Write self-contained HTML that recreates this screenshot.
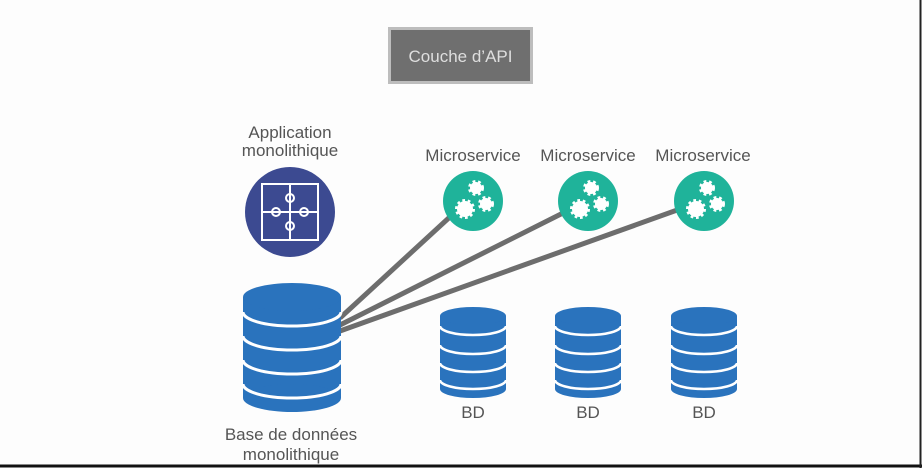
<!DOCTYPE html>
<html><head><meta charset="utf-8"><style>
html,body{margin:0;padding:0;background:#fff}
svg{display:block}
text{font-family:"Liberation Sans",sans-serif;fill:#555}
</style></head><body>
<svg width="922" height="468" viewBox="0 0 922 468">
<rect width="922" height="468" fill="#fdfdfd"/>
<line x1="0" y1="466" x2="922" y2="466" stroke="#111" stroke-width="3"/>
<line x1="920.5" y1="0" x2="920.5" y2="468" stroke="#222" stroke-width="2"/>
<rect x="388" y="27" width="145" height="57" fill="#bdbdbd"/>
<rect x="391" y="30" width="139" height="51" fill="#6f6f6f"/>
<text x="460.5" y="62" text-anchor="middle" font-size="17" style="fill:#dedede">Couche d’API</text>
<text x="290" y="138" text-anchor="middle" font-size="17">Application</text>
<text x="290" y="156" text-anchor="middle" font-size="17">monolithique</text>
<text x="473" y="161" text-anchor="middle" font-size="17">Microservice</text>
<text x="588" y="161" text-anchor="middle" font-size="17">Microservice</text>
<text x="703" y="161" text-anchor="middle" font-size="17">Microservice</text>
<g stroke="#6d6d6d" stroke-width="5">
<line x1="340" y1="318" x2="452" y2="215"/>
<line x1="340" y1="325" x2="565" y2="212"/>
<line x1="340" y1="331" x2="680" y2="209"/>
</g>
<circle cx="290" cy="212" r="45" fill="#3c4a91"/>
<g fill="none" stroke="#fff" stroke-width="2">
<rect x="262" y="184" width="56" height="56"/>
<line x1="290" y1="184" x2="290" y2="240"/>
<line x1="262" y1="212" x2="318" y2="212"/>
<circle cx="276" cy="212" r="4"/><circle cx="304" cy="212" r="4"/>
<circle cx="290" cy="198" r="4"/><circle cx="290" cy="226" r="4"/>
</g>
<g id="ms">
<circle cx="473" cy="201" r="30" fill="#1fb39a"/>
<circle cx="476" cy="188" r="6" fill="#fff" stroke="#fff" stroke-width="4" stroke-dasharray="2.5 2.5"/>
<circle cx="465" cy="209" r="8" fill="#fff" stroke="#fff" stroke-width="4" stroke-dasharray="2.5 2.5"/>
<circle cx="486" cy="204" r="6" fill="#fff" stroke="#fff" stroke-width="4" stroke-dasharray="2.5 2.5"/>
</g>
<use href="#ms" x="115"/>
<use href="#ms" x="231"/>
<g>
<rect x="243" y="297" width="98" height="101" fill="#2a73bd"/>
<ellipse cx="292" cy="398" rx="49" ry="14" fill="#2a73bd"/>
<g fill="none" stroke="#fff" stroke-width="3">
<path d="M243 312 A49 14 0 0 0 341 312"/>
<path d="M243 336 A49 14 0 0 0 341 336"/>
<path d="M243 360 A49 14 0 0 0 341 360"/>
<path d="M243 384 A49 14 0 0 0 341 384"/>
</g>
<ellipse cx="292" cy="297" rx="49" ry="14" fill="#2a73bd"/>
</g>
<g id="db">
<rect x="440" y="316" width="66" height="73" fill="#2a73bd"/>
<ellipse cx="473" cy="389" rx="33" ry="9" fill="#2a73bd"/>
<g fill="none" stroke="#fff" stroke-width="2.5">
<path d="M440 326 A33 9 0 0 0 506 326"/>
<path d="M440 345 A33 9 0 0 0 506 345"/>
<path d="M440 363 A33 9 0 0 0 506 363"/>
<path d="M440 380 A33 9 0 0 0 506 380"/>
</g>
<ellipse cx="473" cy="316" rx="33" ry="9" fill="#2a73bd"/>
</g>
<use href="#db" x="115"/>
<use href="#db" x="231"/>
<text x="473" y="418" text-anchor="middle" font-size="17">BD</text>
<text x="588" y="418" text-anchor="middle" font-size="17">BD</text>
<text x="704" y="418" text-anchor="middle" font-size="17">BD</text>
<text x="291" y="440" text-anchor="middle" font-size="17">Base de données</text>
<text x="291" y="460" text-anchor="middle" font-size="17">monolithique</text>
</svg>
</body></html>
